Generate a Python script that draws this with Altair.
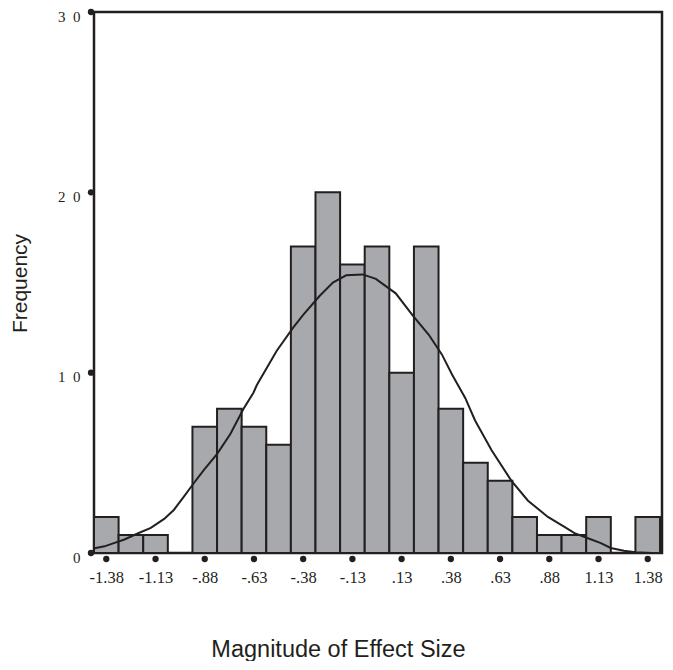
import altair as alt
import pandas as pd

# ---- data ----
bin_centers = [-1.375, -1.25, -1.125, -1.0, -0.875, -0.75, -0.625, -0.5,
               -0.375, -0.25, -0.125, 0.0, 0.125, 0.25, 0.375, 0.5,
               0.625, 0.75, 0.875, 1.0, 1.125, 1.25, 1.375]
counts = [2, 1, 1, 0, 7, 8, 7, 6, 17, 20, 16, 17, 10, 17, 8, 5, 4, 2, 1, 1, 2, 0, 2]
bin_width = 0.125

curve_x = [-1.434, -1.384, -1.333, -1.283, -1.216, -1.149, -1.081, -1.031, -0.980,
           -0.930, -0.880, -0.812, -0.745, -0.678, -0.627, -0.611, -0.510, -0.426,
           -0.375, -0.292, -0.224, -0.157, -0.073, -0.006, 0.095, 0.179, 0.263,
           0.330, 0.381, 0.448, 0.498, 0.582, 0.683, 0.767, 0.868, 0.952, 1.003,
           1.068, 1.137, 1.187, 1.254, 1.313, 1.400, 1.447]
curve_y = [0.26, 0.37, 0.56, 0.75, 1.08, 1.39, 1.89, 2.4, 3.14,
           3.88, 4.6, 5.5, 6.6, 8.0, 8.9, 9.3, 11.2, 12.5,
           13.2, 14.25, 15.0, 15.4, 15.45, 15.2, 14.4, 13.2, 12.1,
           11.0, 9.9, 8.6, 7.35, 5.7, 4.0, 2.9, 2.0, 1.45, 1.1,
           0.83, 0.55, 0.28, 0.13, 0.04, 0.0, 0.0]

tick_values = [-1.375, -1.125, -0.875, -0.625, -0.375, -0.125,
               0.125, 0.375, 0.625, 0.875, 1.125, 1.375]
tick_labels = ["-1.38", "-1.13", "-.88", "-.63", "-.38", "-.13",
               ".13", ".38", ".63", ".88", "1.13", "1.38"]
y_ticks = [0, 10, 20, 30]

x_domain = [-1.4375, 1.4475]
y_domain = [0, 30]

# ---- styling ----
INK = "#231f20"
BAR = "#a7a9ac"
SERIF = "Liberation Serif"
SANS = "Liberation Sans"

bars_df = pd.DataFrame({"center": bin_centers, "count": counts})
bars_df["left"] = bars_df["center"] - bin_width / 2
bars_df["right"] = bars_df["center"] + bin_width / 2
curve_df = pd.DataFrame({"x": curve_x, "y": curve_y})
xt_df = pd.DataFrame({"t": tick_values})
yt_df = pd.DataFrame({"t": y_ticks})

label_expr = ("[" + ",".join(f"'{l}'" for l in tick_labels) + "][indexof(["
              + ",".join(str(v) for v in tick_values) + "], datum.value)]")

x_scale = alt.Scale(domain=x_domain, nice=False, zero=False)
y_scale = alt.Scale(domain=y_domain, nice=False, zero=False)

x_axis = alt.Axis(values=tick_values, labelExpr=label_expr, ticks=False, domain=False,
                  grid=False, labelFont=SERIF, labelFontSize=16.5, labelColor=INK,
                  labelPadding=16, labelBaseline="top", labelFlush=False,
                  labelOverlap=False,
                  title="Magnitude of Effect Size", titleFont=SANS, titleFontSize=23.5,
                  titleFontWeight="normal", titleColor=INK, titleX=244, titleY=103,
                  titleAlign="center", titleBaseline="alphabetic")
y_axis = alt.Axis(values=y_ticks,
                  labelExpr="datum.value >= 10 ? floor(datum.value / 10) + '\u2002' + (datum.value % 10) : datum.label",
                  ticks=False, domain=False, grid=False, labelFont=SERIF,
                  labelFontSize=15, labelColor=INK, labelPadding=14, labelOffset=4,
                  labelFlush=False,
                  title="Frequency", titleFont=SANS, titleFontSize=21,
                  titleFontWeight="normal", titleColor=INK, titleAngle=270,
                  titleX=-67.5, titleY=271, titleAlign="center",
                  titleBaseline="alphabetic")

bars = alt.Chart(bars_df).mark_bar(fill=BAR, stroke=INK, strokeWidth=2).encode(
    x=alt.X("left:Q", scale=x_scale, axis=x_axis),
    x2="right:Q",
    y=alt.Y("count:Q", scale=y_scale, axis=y_axis),
    y2=alt.datum(0),
)

curve = alt.Chart(curve_df).mark_line(color=INK, strokeWidth=2).encode(
    x=alt.X("x:Q", scale=x_scale, axis=x_axis),
    y=alt.Y("y:Q", scale=y_scale, axis=y_axis),
)

xdots = alt.Chart(xt_df).mark_point(filled=True, shape="circle", size=40, color=INK,
                                     opacity=1, yOffset=6).encode(
    x=alt.X("t:Q", scale=x_scale, axis=x_axis),
    y=alt.Y(datum=0, scale=y_scale, axis=y_axis),
)

ydots = alt.Chart(yt_df).mark_point(filled=True, shape="circle", size=40, color=INK,
                                     opacity=1, xOffset=-3).encode(
    x=alt.X(datum=x_domain[0], scale=x_scale, axis=x_axis),
    y=alt.Y("t:Q", scale=y_scale, axis=y_axis),
)

chart = alt.layer(bars, curve, xdots, ydots).properties(
    width=568, height=541,
    autosize=alt.AutoSizeParams(type="none"),
    padding={"left": 86, "top": 4, "right": 3, "bottom": 108},
    background="white",
).configure_view(stroke=INK, strokeWidth=2.5)

chart.save("out.html", embed_options={"renderer": "svg", "actions": False})
